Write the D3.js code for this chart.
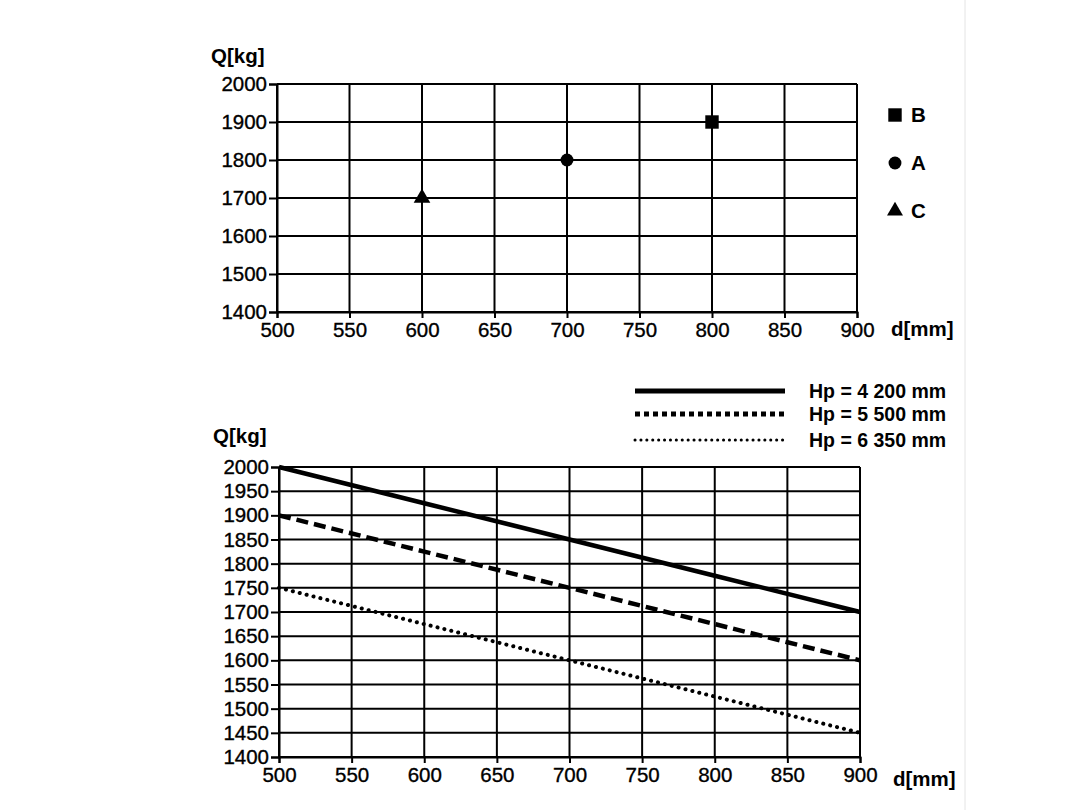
<!DOCTYPE html>
<html><head><meta charset="utf-8">
<script src="https://cdn.jsdelivr.net/npm/d3@7"></script>
<style>body{margin:0;background:#fff}svg{display:block}text{font-family:"Liberation Sans",Arial,sans-serif;fill:#000}</style>
</head><body>
<svg id="c" width="1080" height="810"></svg>
<script>
// Top chart data
const topXTicks = [500,550,600,650,700,750,800,850,900];
const topYTicks = [1400,1500,1600,1700,1800,1900,2000];
const pointNames = ["B","A","C"];
const pointX = [800,700,600];
const pointY = [1900,1800,1700];
const pointShapes = ["square","circle","triangle"];
// Bottom chart data
const botXTicks = [500,550,600,650,700,750,800,850,900];
const botYTicks = [1400,1450,1500,1550,1600,1650,1700,1750,1800,1850,1900,1950,2000];
const lineD = [500,600,700,800,900];
const seriesNames = ["Hp = 4 200 mm","Hp = 5 500 mm","Hp = 6 350 mm"];
const hp4200 = [2000,1925,1850,1775,1700];
const hp5500 = [1900,1825,1750,1675,1600];
const hp6350 = [1750,1675,1600,1525,1450];
const series = [hp4200,hp5500,hp6350];

const svg = d3.select("#c");

// faint scan edge line on the right
svg.append("line").attr("x1",965).attr("x2",965).attr("y1",0).attr("y2",810)
  .attr("stroke","#e4e4e4").attr("stroke-width",1);

function frame(g, x, y, xt, yt, fs) {
  g.append("g").selectAll("line").data(xt).join("line")
    .attr("x1", d=>x(d)).attr("x2", d=>x(d)).attr("y1", y.range()[0]).attr("y2", y.range()[1])
    .attr("stroke","#000").attr("stroke-width",2);
  g.append("g").selectAll("line").data(yt).join("line")
    .attr("x1", x.range()[0]).attr("x2", x.range()[1]).attr("y1", d=>y(d)).attr("y2", d=>y(d))
    .attr("stroke","#000").attr("stroke-width",2);
  const ya = g.append("g").attr("transform",`translate(${x.range()[0]},0)`)
    .call(d3.axisLeft(y).tickValues(yt).tickSize(8).tickPadding(2).tickFormat(d3.format("d")));
  const xa = g.append("g").attr("transform",`translate(0,${y.range()[0]})`)
    .call(d3.axisBottom(x).tickValues(xt).tickSize(6).tickPadding(4).tickFormat(d3.format("d")));
  [ya,xa].forEach(a=>{
    a.attr("font-size",fs).attr("font-family","Liberation Sans, Arial, sans-serif");
    a.select(".domain").attr("stroke","#000").attr("stroke-width",2);
    a.selectAll(".tick line").attr("stroke","#000").attr("stroke-width",2);
    a.selectAll("text").attr("font-size",fs).attr("fill","#000").attr("stroke","#000").attr("stroke-width",0.35);
  });
}

// ---- Top chart
const x1 = d3.scaleLinear().domain([500,900]).range([277,857]);
const y1 = d3.scaleLinear().domain([1400,2000]).range([312,84]);
const g1 = svg.append("g");
frame(g1, x1, y1, topXTicks, topYTicks, 20.5);
svg.append("text").attr("x",211).attr("y",63).attr("font-size",20.5).attr("font-weight","bold").text("Q[kg]");
svg.append("text").attr("x",891).attr("y",336).attr("font-size",20.5).attr("font-weight","bold").text("d[mm]");

const sym = {square:d3.symbolSquare, circle:d3.symbolCircle, triangle:d3.symbolTriangle};
const symSize = {square:180, circle:130, triangle:120};
svg.append("g").selectAll("path").data(pointNames).join("path")
  .attr("transform",(d,i)=>`translate(${x1(pointX[i])},${y1(pointY[i])})`)
  .attr("d",(d,i)=>d3.symbol(sym[pointShapes[i]], symSize[pointShapes[i]])())
  .attr("fill","#000");
const lg1 = svg.append("g");
pointNames.forEach((n,i)=>{
  const cy = [115,163,211][i];
  lg1.append("path").attr("transform",`translate(895,${cy})`)
    .attr("d", d3.symbol(sym[pointShapes[i]], i===0?180:(i===1?130:110))()).attr("fill","#000");
  lg1.append("text").attr("x",911).attr("y",cy+7).attr("font-size",20.5).attr("font-weight","bold").text(n);
});

// ---- Bottom chart
const x2 = d3.scaleLinear().domain([500,900]).range([279,860]);
const y2 = d3.scaleLinear().domain([1400,2000]).range([757,467]);
const g2 = svg.append("g");
frame(g2, x2, y2, botXTicks, botYTicks, 20.5);
svg.append("text").attr("x",213).attr("y",443).attr("font-size",20.5).attr("font-weight","bold").text("Q[kg]");
svg.append("text").attr("x",893).attr("y",786).attr("font-size",20.5).attr("font-weight","bold").text("d[mm]");

const styles = [
  {w:4.5, dash:null, cap:"butt"},
  {w:4.5, dash:"12,6", cap:"butt"},
  {w:4, dash:"0.1,7", cap:"round"}
];
const line = d3.line().x((d,i)=>x2(lineD[i])).y(d=>y2(d));
series.forEach((s,i)=>{
  svg.append("path").datum(s).attr("d",line).attr("fill","none").attr("stroke","#000")
    .attr("stroke-width",styles[i].w).attr("stroke-dasharray",styles[i].dash).attr("stroke-linecap",styles[i].cap);
});
const legY = [391,414,440];
const legStyles = [
  {w:5, dash:null, cap:"butt"},
  {w:5, dash:"5,4", cap:"butt"},
  {w:3, dash:"0.1,5.8", cap:"round"}
];
seriesNames.forEach((n,i)=>{
  svg.append("line").attr("x1",635).attr("x2",785).attr("y1",legY[i]).attr("y2",legY[i])
    .attr("stroke","#000").attr("stroke-width",legStyles[i].w).attr("stroke-dasharray",legStyles[i].dash).attr("stroke-linecap",legStyles[i].cap);
  svg.append("text").attr("x",809).attr("y",legY[i]+7).attr("font-size",19.5).attr("font-weight","bold").text(n);
});
</script>
</body></html>
